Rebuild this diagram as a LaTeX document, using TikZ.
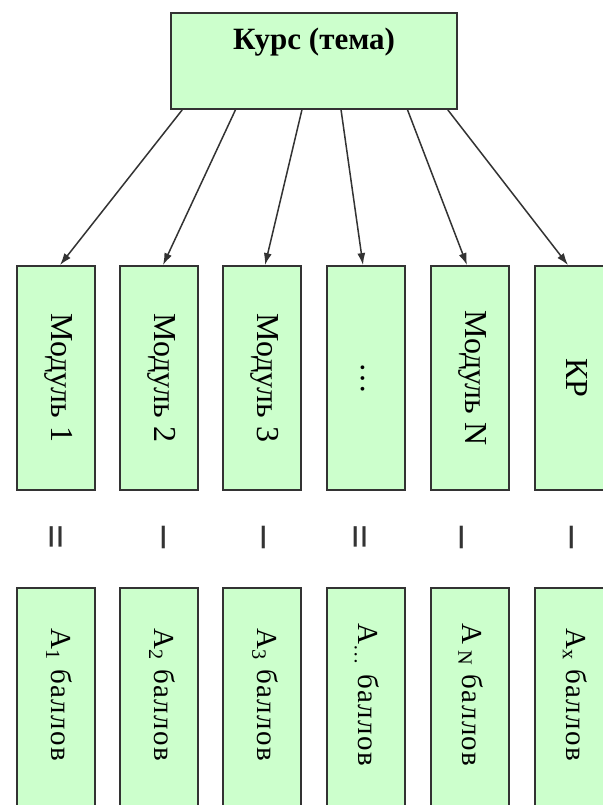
\documentclass[tikz,border=0pt]{standalone}
\usepackage{fontspec}
\setmainfont{Liberation Serif}
\newfontfamily\lowfnt[LetterSpace=5]{Liberation Serif}
\usetikzlibrary{arrows.meta,calc}
\definecolor{boxfill}{HTML}{CCFFCC}
\definecolor{boxline}{HTML}{333333}
\tikzset{
  box/.style={draw=boxline, fill=boxfill, line width=1.8pt, rectangle, inner sep=0pt},
  topbox/.style={box, minimum width=286pt, minimum height=96pt},
  modbox/.style={box, minimum width=78pt, minimum height=224pt},
  lowbox/.style={box, minimum width=78pt, minimum height=230pt, anchor=north},
  modtxt/.style={rotate=-90, font=\fontsize{32}{36}\selectfont, inner sep=0pt},
  lowtxt/.style={rotate=-90, font=\lowfnt\fontsize{29}{32}\selectfont, inner sep=0pt},
  eqtxt/.style={rotate=-90, font=\bfseries\fontsize{44}{48}\selectfont, inner sep=0pt, text=boxline},
  conn/.style={draw=boxline, line width=1.5pt, -{Latex[length=12pt,width=8pt]}}
}
\begin{document}
\begin{tikzpicture}[x=1pt,y=-1pt]
\useasboundingbox (0,0) rectangle (602,805);
\fill[white] (0,0) rectangle (602,805);
% top box
\node[topbox] (top) at (314,61) {};
\node[font=\bfseries\fontsize{31}{34}\selectfont, anchor=base, inner sep=0pt] (toptxt) at (314,50) {Курс (тема)};
% module boxes
\node[modbox] (m1) at (56,378) {};
\node[modbox] (m2) at (159,378) {};
\node[modbox] (m3) at (262,378) {};
\node[modbox] (m4) at (366,378) {};
\node[modbox] (m5) at (470,378) {};
\node[modbox] (m6) at (574,378) {};
\node[modtxt] (mt1) at (59,378) {Модуль 1};
\node[modtxt] (mt2) at (162,378) {Модуль 2};
\node[modtxt] (mt3) at (265,378) {Модуль 3};
\node[modtxt] (mt4) at (363,378) {…};
\node[modtxt] (mt5) at (473,378) {Модуль N};
\node[modtxt] (mt6) at (577,378) {КР};
% connectors
\draw[conn] ($(top.south west)!0.042!(top.south east)$) -- ([xshift=4pt]m1.north);
\draw[conn] ($(top.south west)!0.227!(top.south east)$) -- ([xshift=4pt]m2.north);
\draw[conn] ($(top.south west)!0.458!(top.south east)$) -- ([xshift=3pt]m3.north);
\draw[conn] ($(top.south west)!0.594!(top.south east)$) -- ([xshift=-3pt]m4.north);
\draw[conn] ($(top.south west)!0.825!(top.south east)$) -- ([xshift=-3pt]m5.north);
\draw[conn] ($(top.south west)!0.965!(top.south east)$) -- ([xshift=-6pt]m6.north);
% equality signs
\node[eqtxt] (e1) at (52,537) {=};
\node[eqtxt] (e2) at (159,537) {–};
\node[eqtxt] (e3) at (259,537) {–};
\node[eqtxt] (e4) at (356,537) {=};
\node[eqtxt] (e5) at (457,537) {–};
\node[eqtxt] (e6) at (567,537) {–};
% score boxes
\node[lowbox] (b1) at (56,587) {};
\node[lowbox] (b2) at (159,587) {};
\node[lowbox] (b3) at (262,587) {};
\node[lowbox] (b4) at (366,587) {};
\node[lowbox] (b5) at (470,587) {};
\node[lowbox] (b6) at (574,587) {};
\node[lowtxt] (bt1) at (59,695) {А\textsubscript{1} баллов};
\node[lowtxt] (bt2) at (162,695) {А\textsubscript{2} баллов};
\node[lowtxt] (bt3) at (265,695) {А\textsubscript{3} баллов};
\node[lowtxt] (bt4) at (367,695) {А\textsubscript{…} баллов};
\node[lowtxt] (bt5) at (471,695) {А\textsubscript{ N} баллов};
\node[lowtxt] (bt6) at (575,695) {А\textsubscript{x} баллов};
\end{tikzpicture}
\end{document}
